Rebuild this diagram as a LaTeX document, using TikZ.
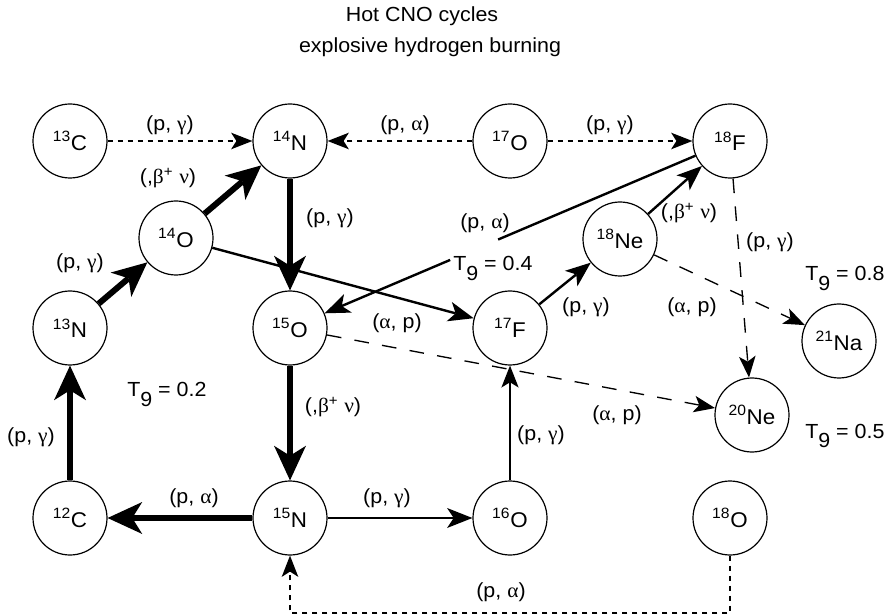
\documentclass[tikz,border=0pt]{standalone}
\usepackage{fontspec}
\setmainfont{Liberation Sans}[FakeStretch=1.05]
\newfontfamily\grk{Liberation Serif}[FakeStretch=1.05]
\usetikzlibrary{arrows.meta,calc}

% isotope with mass number
\newcommand\iso[2]{\textsuperscript{#1}#2}
% upright Greek letters
\newcommand\rgamma{{\grk γ}}
\newcommand\ralpha{{\grk α}}
\newcommand\rbeta{{\grk β}}
\newcommand\rnu{{\grk ν}}
% reaction labels
\newcommand\lpg{(p, \rgamma)}
\newcommand\lpa{(p, \ralpha)}
\newcommand\lap{(\ralpha, p)}
\newcommand\lbv{(,\rbeta\textsuperscript{+} \rnu)}
% temperature label
\newcommand\tnine[1]{T\raisebox{-0.48em}{9} = #1}

\begin{document}
\begin{tikzpicture}[
  x=0.75pt, y=-0.75pt,
  every node/.style={font=\fontsize{15.3}{18}\selectfont},
  nuc/.style={circle, draw, line width=0.9pt, minimum size=55.5pt, inner sep=0pt,
    font=\fontsize{16}{18}\selectfont},
  lbl/.style={inner sep=0pt},
  tlbl/.style={inner sep=0pt, anchor=base west},
  ttl/.style={inner sep=0pt, anchor=base},
  heavy/.style={line width=4.5pt, -{Stealth[length=26pt,width=24pt,inset=7.5pt,line width=0pt]}},
  medium/.style={line width=1.8pt, -{Stealth[length=19pt,width=15pt,inset=5pt,line width=0pt]}},
  light/.style={line width=1.1pt, -{Stealth[length=16.5pt,width=13pt,inset=4pt,line width=0pt]}},
  shortdash/.style={line width=1pt, dash pattern=on 3.75pt off 3.75pt,
    -{Stealth[length=16pt,width=12.5pt,inset=4pt,line width=0pt]}},
  longdash/.style={line width=1pt, dash pattern=on 11pt off 10pt,
    -{Stealth[length=16pt,width=12.5pt,inset=4pt,line width=0pt]}},
]
\useasboundingbox (0,0) rectangle (892,616);

% titles
\node[ttl] (title1) at (422,22) {Hot CNO cycles};
\node[ttl] (title2) at (430,53) {explosive hydrogen burning};

% nuclei
\node[nuc] (n13C)  at (70,141)  {\iso{13}{C}};
\node[nuc] (n14N)  at (290,141) {\iso{14}{N}};
\node[nuc] (n17O)  at (510,141) {\iso{17}{O}};
\node[nuc] (n18F)  at (730,141) {\iso{18}{F}};
\node[nuc] (n14O)  at (176,238) {\iso{14}{O}};
\node[nuc] (n18Ne) at (620,239) {\iso{18}{Ne}};
\node[nuc] (n13N)  at (70,328)  {\iso{13}{N}};
\node[nuc] (n15O)  at (290,328) {\iso{15}{O}};
\node[nuc] (n17F)  at (510,328) {\iso{17}{F}};
\node[nuc] (n21Na) at (839,341) {\iso{21}{Na}};
\node[nuc] (n20Ne) at (752,415) {\iso{20}{Ne}};
\node[nuc] (n12C)  at (70,518)  {\iso{12}{C}};
\node[nuc] (n15N)  at (290,518) {\iso{15}{N}};
\node[nuc] (n16O)  at (510,518) {\iso{16}{O}};
\node[nuc] (n18O)  at (730,518) {\iso{18}{O}};

% cold CNO cycle
\draw[heavy] (n12C) -- (n13N);
\draw[heavy] (n14N) -- (n15O);
\draw[heavy] (n15O) -- (n15N);
\draw[heavy] (n15N) -- (n12C);
% hot CNO cycle
\draw[heavy] (n13N) -- (n14O);
\draw[heavy] (n14O) -- (n14N);

% breakout and side branches
\draw[medium] (n15N) -- (n16O);
\draw[light]  (n16O) -- (n17F);
\draw[medium] (n14O) -- (n17F);
\draw[medium] (n17F) -- (n18Ne);
\draw[medium] (n18Ne) -- (n18F);
\coordinate (gapA) at ($(n18F)!0.527!(n15O)$);
\coordinate (gapB) at ($(n18F)!0.636!(n15O)$);
\draw[line width=1.8pt] (n18F) -- (gapA);
\draw[medium] (gapB) -- (n15O);

% dotted feeding reactions
\draw[shortdash] (n13C) -- (n14N);
\draw[shortdash] (n17O) -- (n14N);
\draw[shortdash] (n17O) -- (n18F);
\coordinate (cR) at (730,613);
\coordinate (cL) at (290,613);
\draw[shortdash] (n18O.south) -- (cR) -- (cL) -- (n15N.south);

% breakout to heavier nuclei
\draw[longdash] (n18F) -- (n20Ne);
\draw[longdash] (n18Ne) -- (n21Na);
\draw[longdash] (n15O) -- (n20Ne);

% reaction labels
\node[lbl] (l1)  at (170,125) {\lpg};
\node[lbl] (l2)  at (405,125) {\lpa};
\node[lbl] (l3)  at (610,125) {\lpg};
\node[lbl] (l4)  at (168,178) {\lbv};
\node[lbl] (l5)  at (330,218) {\lpg};
\node[lbl] (l6)  at (80,263)  {\lpg};
\node[lbl] (l7)  at (485,223) {\lpa};
\node[lbl] (l9)  at (689,213) {\lbv};
\node[lbl] (l10) at (770,242) {\lpg};
\node[lbl] (l12) at (397,323) {\lap};
\node[lbl] (l13) at (586,307) {\lpg};
\node[lbl] (l14) at (692,307) {\lap};
\node[lbl] (l15) at (617,415) {\lap};
\node[lbl] (l16) at (541,435) {\lpg};
\node[lbl] (l18) at (333,407) {\lbv};
\node[lbl] (l19) at (31,437)  {\lpg};
\node[lbl] (l21) at (194,498) {\lpa};
\node[lbl] (l22) at (387,498) {\lpg};
\node[lbl] (l23) at (501,592) {\lpa};

% temperatures
\node[tlbl] (t02) at (127,397) {\tnine{0.2}};
\node[tlbl] (t04) at (453,271) {\tnine{0.4}};
\node[tlbl] (t08) at (805,281) {\tnine{0.8}};
\node[tlbl] (t05) at (805,438) {\tnine{0.5}};
\end{tikzpicture}
\end{document}
